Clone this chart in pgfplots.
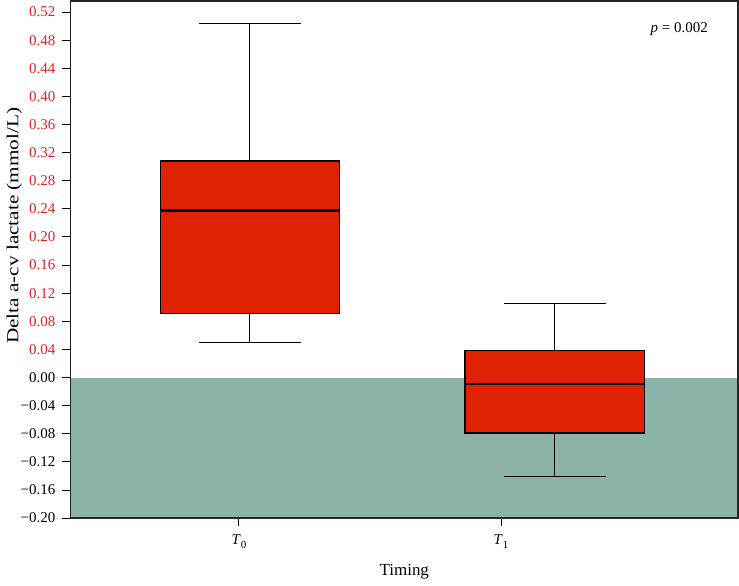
\documentclass[border=0pt]{standalone}
\usepackage{fontspec}
\setmainfont{Liberation Serif}
\usepackage{pgfplots}
\pgfplotsset{compat=1.18}
\usepgfplotslibrary{statistics}
\definecolor{boxred}{RGB}{224,33,4}
\definecolor{lblred}{RGB}{230,30,30}
\definecolor{shade}{RGB}{140,179,170}
\begin{document}
\begin{tikzpicture}
\begin{axis}[
    scale only axis,
    width=335pt, height=259.5pt,
    xmin=-0.643, xmax=1.905,
    ymin=-0.20, ymax=0.536,
    font=\fontsize{7.5}{9}\selectfont,
    axis on top,
    axis line style={draw=black!85, line width=0.8pt},
    tick pos=left,
    tick align=outside,
    major tick length=4pt,
    tick style={black, line width=0.5pt},
    xtick={0,1},
    xticklabels={\textit{T}\raisebox{-0.45ex}{\fontsize{5.5}{6}\selectfont 0},
                 \textit{T}\raisebox{-0.45ex}{\fontsize{5.5}{6}\selectfont 1}},
    xticklabel style={yshift=-1pt},
    ytick={-0.20,-0.16,-0.12,-0.08,-0.04,0,0.04,0.08,0.12,0.16,0.20,0.24,0.28,0.32,0.36,0.40,0.44,0.48,0.52},
    yticklabels={−0.20,−0.16,−0.12,−0.08,−0.04,0.00,
      \textcolor{lblred}{0.04},\textcolor{lblred}{0.08},\textcolor{lblred}{0.12},
      \textcolor{lblred}{0.16},\textcolor{lblred}{0.20},\textcolor{lblred}{0.24},
      \textcolor{lblred}{0.28},\textcolor{lblred}{0.32},\textcolor{lblred}{0.36},
      \textcolor{lblred}{0.40},\textcolor{lblred}{0.44},\textcolor{lblred}{0.48},
      \textcolor{lblred}{0.52}},
    xlabel={Timing},
    xlabel style={font=\fontsize{8.5}{10}\selectfont, yshift=-1pt},
    ylabel={\addfontfeatures{FakeStretch=1.25}Delta a-cv lactate (mmol/L)},
    ylabel style={font=\fontsize{8.5}{10}\selectfont,
      at={(ticklabel cs:0.565)}, yshift=-7.5pt},
    boxplot/draw direction=y,
    boxplot/every box/.style={draw=black, line width=0.6pt, fill=boxred},
    boxplot/every median/.style={draw=black, line width=1.3pt},
    boxplot/every whisker/.style={draw=black, line width=0.5pt},
]
% shaded area below zero
\addplot[draw=none, fill=shade] coordinates {(-0.643,0) (1.905,0) (1.905,-0.2) (-0.643,-0.2)} -- cycle;

\addplot[boxplot prepared={draw position=0.042,
    lower whisker=0.050, lower quartile=0.091, median=0.238,
    upper quartile=0.308, upper whisker=0.503,
    box extend=0.684, whisker extend=0.388},
    draw=black, fill=boxred] coordinates {};
\addplot[boxplot prepared={draw position=1.205,
    lower whisker=-0.141, lower quartile=-0.079, median=-0.009,
    upper quartile=0.039, upper whisker=0.105,
    box extend=0.684, whisker extend=0.388},
    draw=black, fill=boxred] coordinates {};

\node[anchor=center] at (axis cs:1.68,0.495) {\textit{p} = 0.002};
\end{axis}
\end{tikzpicture}
\end{document}
